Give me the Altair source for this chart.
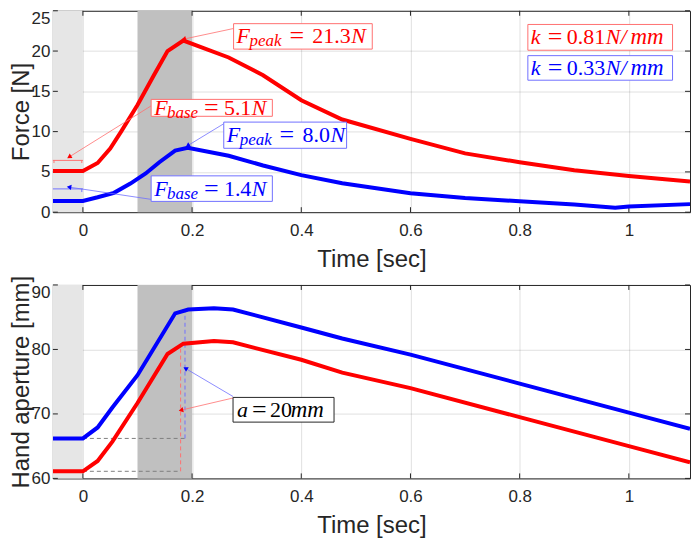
import altair as alt
import pandas as pd

# ---------------- data ----------------
t_force_red = [-0.055, 0.0, 0.027, 0.05, 0.07, 0.1, 0.13, 0.155, 0.184, 0.267, 0.33, 0.4, 0.475, 0.6, 0.7, 0.8, 0.9, 1.0, 1.112]
f_red = [5.1, 5.1, 6.1, 7.9, 10.0, 13.3, 17.0, 20.0, 21.3, 19.2, 17.0, 13.9, 11.5, 9.1, 7.3, 6.2, 5.2, 4.5, 3.8]
t_force_blue = [-0.055, 0.0, 0.027, 0.057, 0.087, 0.115, 0.14, 0.169, 0.192, 0.267, 0.33, 0.4, 0.475, 0.6, 0.7, 0.8, 0.9, 0.975, 1.0, 1.112]
f_blue = [1.4, 1.4, 1.85, 2.4, 3.55, 4.8, 6.2, 7.65, 8.0, 7.0, 5.8, 4.6, 3.6, 2.35, 1.75, 1.35, 0.95, 0.55, 0.7, 1.0]

t_ap_blue = [-0.055, 0.0, 0.027, 0.054, 0.1, 0.169, 0.193, 0.24, 0.275, 0.4, 0.475, 0.6, 0.8, 1.0, 1.112]
a_blue = [66.2, 66.2, 67.9, 71.0, 76.0, 85.6, 86.2, 86.4, 86.2, 83.4, 81.7, 79.2, 74.7, 70.2, 67.7]
t_ap_red = [-0.055, 0.0, 0.027, 0.054, 0.1, 0.155, 0.184, 0.24, 0.275, 0.4, 0.475, 0.6, 0.8, 1.0, 1.112]
a_red = [61.1, 61.1, 62.7, 65.7, 71.7, 79.3, 80.9, 81.3, 81.1, 78.4, 76.4, 74.0, 69.5, 65.0, 62.5]

x_ticks = [0, 0.2, 0.4, 0.6, 0.8, 1]
force_ticks = [0, 5, 10, 15, 20, 25]
ap_ticks = [60, 70, 80, 90]
x_domain = [-0.055, 1.112]
force_domain = [0, 25]
ap_domain = [60, 90]

# shaded phases: (start, end, colour)
phases_t0 = [-0.055, 0.1]
phases_t1 = [0.0, 0.2]
phases_col = ["#e6e6e6", "#c0c0c0"]

RED = "#ff0000"
BLUE = "#0000ff"
RED_L = "#ff7070"
BLUE_L = "#7070ff"
W = 639
H1 = 202
H2 = 194
SERIF = "Liberation Serif"


def X():
    return alt.X("t:Q", scale=alt.Scale(domain=x_domain, nice=False, zero=False),
                 axis=alt.Axis(values=x_ticks, format="~g", title="Time [sec]", grid=True,
                               labelPadding=10, titlePadding=9))


def Y(domain, ticks, title):
    top_label = ticks[-1]
    return alt.Y("v:Q", scale=alt.Scale(domain=domain, nice=False, zero=False),
                 axis=alt.Axis(values=ticks, title=title, grid=True, labelPadding=3,
                               titlePadding=-2,
                               labelBaseline={"condition": {"test": f"datum.value >= {top_label}",
                                                            "value": "top"},
                                              "value": "middle"}))


def panel_base(domain, ticks, title, H):
    layers = []
    ph = pd.DataFrame({"t": phases_t0, "t2": phases_t1, "v": [domain[0]] * 2,
                       "v2": [domain[1]] * 2, "c": phases_col})
    layers.append(alt.Chart(ph).mark_rect().encode(
        x=X(), x2="t2", y=Y(domain, ticks, title), y2="v2",
        color=alt.Color("c:N", scale=None)))
    xt = pd.DataFrame({"t": x_ticks})
    layers.append(alt.Chart(xt).mark_rule(color="#262626", strokeWidth=1).encode(
        x=X(), y=alt.value(H), y2=alt.value(H - 5)))
    layers.append(alt.Chart(xt).mark_rule(color="#262626", strokeWidth=1).encode(
        x=X(), y=alt.value(0), y2=alt.value(5)))
    yt = pd.DataFrame({"v": ticks})
    layers.append(alt.Chart(yt).mark_rule(color="#262626", strokeWidth=1).encode(
        y=Y(domain, ticks, title), x=alt.value(0), x2=alt.value(5)))
    layers.append(alt.Chart(yt).mark_rule(color="#262626", strokeWidth=1).encode(
        y=Y(domain, ticks, title), x=alt.value(W), x2=alt.value(W - 5)))
    return layers


def series(ts, vs, color, domain, ticks, title):
    df = pd.DataFrame({"t": ts, "v": vs})
    return alt.Chart(df).mark_line(color=color, strokeWidth=4, clip=True).encode(
        x=X(), y=Y(domain, ticks, title))


def seg(t, v, t2, v2, color, domain, ticks, title, width=0.8, dash=None):
    df = pd.DataFrame({"t": [t], "v": [v], "t2": [t2], "v2": [v2]})
    kw = dict(color=color, strokeWidth=width)
    if dash:
        kw["strokeDash"] = dash
    return alt.Chart(df).mark_rule(**kw).encode(
        x=X(), y=Y(domain, ticks, title), x2="t2", y2="v2")


def head(t, v, angle, color, domain, ticks, title):
    df = pd.DataFrame({"t": [t], "v": [v]})
    return alt.Chart(df).mark_point(shape="triangle", filled=True, size=28, angle=angle,
                                    color=color, opacity=1).encode(
        x=X(), y=Y(domain, ticks, title))


def box(t, v, t2, v2, stroke, domain, ticks, title):
    df = pd.DataFrame({"t": [t], "v": [v], "t2": [t2], "v2": [v2]})
    return alt.Chart(df).mark_rect(fill="white", stroke=stroke, strokeWidth=1).encode(
        x=X(), y=Y(domain, ticks, title), x2="t2", y2="v2")


def label(t, v, color, parts, domain, ticks, title):
    out = []
    df = pd.DataFrame({"t": [t], "v": [v]})
    for text, dx, dy, size, style in parts:
        out.append(alt.Chart(df).mark_text(
            text=text, dx=dx, dy=dy, fontSize=size, fontStyle=style, font=SERIF,
            align="left", baseline="middle", color=color).encode(
            x=X(), y=Y(domain, ticks, title)))
    return out


# ---------------- top panel: force ----------------
fd, ft, fT = force_domain, force_ticks, "Force [N]"
top_layers = panel_base(fd, ft, fT, H1)
top_layers.append(series(t_force_red, f_red, RED, fd, ft, fT))
top_layers.append(series(t_force_blue, f_blue, BLUE, fd, ft, fT))

# baseline brackets
top_layers += [
    seg(-0.055, 6.43, 0.0, 6.43, RED_L, fd, ft, fT, 1),
    seg(-0.053, 6.43, -0.053, 6.1, RED_L, fd, ft, fT, 1),
    seg(-0.002, 6.43, -0.002, 6.1, RED_L, fd, ft, fT, 1),
    seg(-0.055, 2.89, 0.0, 2.89, BLUE_L, fd, ft, fT, 1),
    seg(-0.002, 2.89, -0.002, 2.5, BLUE_L, fd, ft, fT, 1),
]
# arrows
top_layers += [
    seg(0.276, 22.8, 0.186, 21.5, RED_L, fd, ft, fT),
    head(0.186, 21.5, 255, RED, fd, ft, fT),
    seg(0.125, 13.2, -0.024, 6.9, RED_L, fd, ft, fT),
    head(-0.024, 6.9, 239, RED, fd, ft, fT),
    seg(0.258, 10.98, 0.193, 8.3, BLUE_L, fd, ft, fT),
    head(0.193, 8.3, 238, BLUE, fd, ft, fT),
    seg(0.125, 1.59, -0.024, 3.1, BLUE_L, fd, ft, fT),
    head(-0.024, 3.1, 279, BLUE, fd, ft, fT),
]
# boxes
top_layers += [
    box(0.276, 23.4, 0.53, 20.24, RED_L, fd, ft, fT),
    box(0.125, 14.0, 0.347, 11.9, RED_L, fd, ft, fT),
    box(0.258, 11.18, 0.483, 7.93, BLUE_L, fd, ft, fT),
    box(0.125, 4.51, 0.347, 1.34, BLUE_L, fd, ft, fT),
    box(0.815, 23.3, 1.08, 20.1, RED_L, fd, ft, fT),
    box(0.815, 19.43, 1.08, 16.38, BLUE_L, fd, ft, fT),
]


def fparts(sub, num, eq_dx, num_dx, numw):
    return [("F", 3, 0, 22, "italic"), (sub, 16, 5, 17, "italic"),
            ("=", eq_dx, 0, 26, "normal"), (num, num_dx, 0, 22, "normal"),
            ("N", num_dx + numw, 0, 22, "italic")]


top_layers += label(0.276, 21.82, RED, fparts("peak", "21.3", 56, 79, 39), fd, ft, fT)
top_layers += label(0.125, 12.95, RED, fparts("base", "5.1", 53, 73, 28), fd, ft, fT)
top_layers += label(0.258, 9.55, BLUE, fparts("peak", "8.0", 56, 79, 28), fd, ft, fT)
top_layers += label(0.125, 2.92, BLUE, fparts("base", "1.4", 53, 73, 28), fd, ft, fT)

kparts = lambda num: [("k", 3, 0, 22, "italic"), ("=", 20, 0, 26, "normal"),
                      (num, 39, 0, 22, "normal"), ("N", 78, 0, 22, "italic"),
                      ("/", 93, 0, 22, "italic"), ("m", 103, 0, 23, "italic"),
                      ("m", 119.5, 0, 23, "italic")]
top_layers += label(0.815, 21.7, RED, kparts("0.81"), fd, ft, fT)
top_layers += label(0.815, 17.9, BLUE, kparts("0.33"), fd, ft, fT)

top = alt.layer(*top_layers).properties(width=W, height=H1)

# ---------------- bottom panel: aperture ----------------
ad, at, aT = ap_domain, ap_ticks, "Hand aperture [mm]"
bot_layers = panel_base(ad, at, aT, H2)
bot_layers += [
    seg(0.0, 66.2, 0.187, 66.2, "#808080", ad, at, aT, 1, [4, 3]),
    seg(0.0, 61.1, 0.179, 61.1, "#808080", ad, at, aT, 1, [4, 3]),
    seg(0.187, 66.2, 0.187, 86.2, BLUE_L, ad, at, aT, 1, [4, 3]),
    seg(0.179, 61.1, 0.179, 80.9, RED_L, ad, at, aT, 1, [4, 3]),
]
bot_layers.append(series(t_ap_red, a_red, RED, ad, at, aT))
bot_layers.append(series(t_ap_blue, a_blue, BLUE, ad, at, aT))
bot_layers += [
    seg(0.275, 72.7, 0.189, 77.0, BLUE_L, ad, at, aT),
    head(0.189, 77.0, 301, BLUE, ad, at, aT),
    seg(0.275, 72.47, 0.181, 70.61, RED_L, ad, at, aT),
    head(0.181, 70.61, 257, RED, ad, at, aT),
    box(0.275, 72.56, 0.46, 68.73, "#262626", ad, at, aT),
]
bot_layers += label(0.275, 70.65, "#000000",
                    [("a", 4, 0, 22, "italic"), ("=", 19, 0, 26, "normal"),
                     ("20", 37, 0, 22, "normal"), ("m", 58, 0, 23, "italic"),
                     ("m", 74.5, 0, 23, "italic")], ad, at, aT)

bottom = alt.layer(*bot_layers).properties(width=W, height=H2)

chart = alt.vconcat(top, bottom, spacing=2).properties(
    padding={"left": 0, "top": 0, "right": 0, "bottom": 0},
    background="white",
).configure_axis(
    labelFont="Liberation Sans", labelFontSize=17, labelColor="#262626",
    titleFont="Liberation Sans", titleFontSize=24, titleFontWeight="normal",
    titleColor="#262626", gridColor="#262626", gridOpacity=0.15, domain=False,
    ticks=False,
).configure_view(stroke="#262626", strokeWidth=1)

chart.save("out.html", embed_options={"renderer": "svg", "actions": False})
